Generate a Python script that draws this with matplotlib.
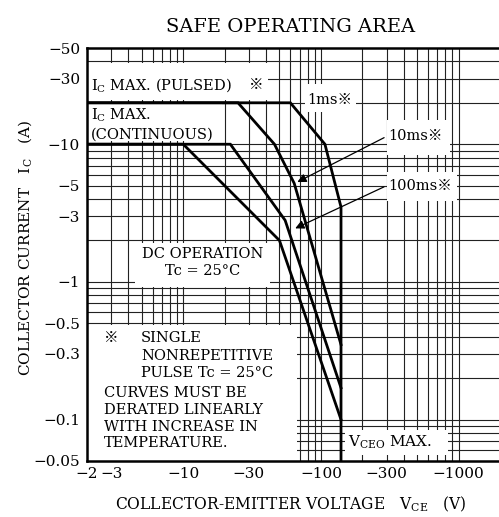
import matplotlib
matplotlib.use("Agg")
import matplotlib.pyplot as plt
from matplotlib.patches import Rectangle

plt.rcParams["font.family"] = ["DejaVu Serif", "Noto Sans CJK JP"]
plt.rcParams["mathtext.fontset"] = "dejavuserif"

# SOA boundaries (|VCE| in V, |IC| in A)
v_1ms = [2, 60, 107, 138, 140, 140]
i_1ms = [20, 20, 10, 3.7, 3.5, 0.05]
v_10ms = [2, 25, 46, 64, 140]
i_10ms = [20, 20, 10, 5.2, 0.35]
v_100ms = [2, 22, 55, 140]
i_100ms = [10, 10, 2.8, 0.17]
v_dc = [2, 10, 50, 140]
i_dc = [10, 10, 2, 0.1]

x_ticks = [2, 3, 10, 30, 100, 300, 1000]
x_ticklabels = ["−2", "−3", "−10", "−30", "−100", "−300", "−1000"]
y_ticks = [0.05, 0.1, 0.3, 0.5, 1, 3, 5, 10, 30, 50]
y_ticklabels = ["−0.05", "−0.1", "−0.3", "−0.5", "−1", "−3", "−5", "−10", "−30", "−50"]

x_grid = list(range(2, 10)) + list(range(10, 100, 10)) + list(range(100, 1001, 100))
y_grid = [0.06, 0.07, 0.08, 0.09, 0.1, 0.2, 0.3, 0.4, 0.5, 0.6, 0.7, 0.8, 0.9,
          1, 2, 3, 4, 5, 6, 7, 8, 9, 10, 20, 30, 40]

fig = plt.figure(figsize=(4.99, 5.17), dpi=100)
ax = fig.add_axes([87 / 499, 56 / 517, 413 / 499, 413 / 517])
ax.set_xscale("log")
ax.set_yscale("log")
ax.set_xlim(2, 2000)
ax.set_ylim(0.05, 50)

for gx in x_grid:
    ax.axvline(gx, color="#222222", lw=0.8, zorder=1)
for gy in y_grid:
    ax.axhline(gy, color="#222222", lw=0.8, zorder=1)

# white label areas that break the grid
blanks = [
    (2, 21, 41.5, 39),      # IC max pulsed
    (2, 10.5, 19.2, 19.5),  # IC max continuous
    (77, 17.1, 180, 27.3),  # 1ms
    (300, 8.4, 870, 15),    # 10ms
    (300, 3.9, 980, 6.3),   # 100ms
    (4.5, 0.92, 42.5, 1.92),  # DC operation
    (2, 0.05, 67, 0.49),    # note
    (150, 0.055, 840, 0.084),  # VCEO
]
for x0, y0, x1, y1 in blanks:
    ax.add_patch(Rectangle((x0, y0), x1 - x0, y1 - y0, facecolor="white",
                           edgecolor="none", zorder=2))

for v, i in [(v_1ms, i_1ms), (v_10ms, i_10ms), (v_100ms, i_100ms), (v_dc, i_dc)]:
    ax.plot(v, i, color="black", lw=2.0, zorder=4, solid_joinstyle="miter")

ax.set_xticks(x_ticks)
ax.set_xticklabels(x_ticklabels)
ax.set_yticks(y_ticks)
ax.set_yticklabels(y_ticklabels)
ax.minorticks_off()
ax.tick_params(length=0, labelsize=11, pad=4)
ax.tick_params(axis="y", pad=5)

for side in ["left", "top", "bottom"]:
    ax.spines[side].set_linewidth(1.8)
ax.spines["right"].set_visible(False)

fs = 10.5
ax.text(2.15, 27, r"I$_\mathrm{C}$ MAX. (PULSED)", fontsize=fs, va="center", zorder=5)
ax.text(34, 27, "※", fontsize=fs, va="center", ha="center", zorder=5)
ax.text(2.15, 16.3, r"I$_\mathrm{C}$ MAX.", fontsize=fs, va="center", zorder=5)
ax.text(2.15, 11.8, "(CONTINUOUS)", fontsize=fs, va="center", zorder=5)
ax.text(79, 21, "1ms※", fontsize=fs, va="center", zorder=5)
ax.text(310, 11.4, "10ms※", fontsize=fs, va="center", zorder=5)
ax.text(310, 5.0, "100ms※", fontsize=fs, va="center", zorder=5)
ax.text(13.9, 1.6, "DC OPERATION", fontsize=fs, va="center", ha="center", zorder=5)
ax.text(13.9, 1.2, "Tc = 25°C", fontsize=fs, va="center", ha="center", zorder=5)

ax.text(2.67, 0.392, "※", fontsize=fs, va="center", zorder=5)
ax.text(4.95, 0.392, "SINGLE", fontsize=fs, va="center", zorder=5)
ax.text(4.95, 0.290, "NONREPETITIVE", fontsize=fs, va="center", zorder=5)
ax.text(4.95, 0.218, "PULSE Tc = 25°C", fontsize=fs, va="center", zorder=5)
ax.text(2.67, 0.156, "CURVES MUST BE", fontsize=fs, va="center", zorder=5)
ax.text(2.67, 0.118, "DERATED LINEARLY", fontsize=fs, va="center", zorder=5)
ax.text(2.67, 0.089, "WITH INCREASE IN", fontsize=fs, va="center", zorder=5)
ax.text(2.67, 0.068, "TEMPERATURE.", fontsize=fs, va="center", zorder=5)
ax.text(158, 0.068, r"V$_\mathrm{CEO}$ MAX.", fontsize=11, va="center", zorder=5)

ax.annotate("", xy=(64.7, 5.2), xytext=(300, 11.4),
            arrowprops=dict(arrowstyle="-|>", color="black", lw=0.9,
                            mutation_scale=13), zorder=5)
ax.annotate("", xy=(62.4, 2.4), xytext=(300, 5.0),
            arrowprops=dict(arrowstyle="-|>", color="black", lw=0.9,
                            mutation_scale=13), zorder=5)

fig.text(291 / 499, 1 - 27 / 517, "SAFE OPERATING AREA", fontsize=14,
         ha="center", va="center")
fig.text(291 / 499, 1 - 504 / 517, r"COLLECTOR-EMITTER VOLTAGE   V$_\mathrm{CE}$   (V)",
         fontsize=11.2, ha="center", va="center")
fig.text(25 / 499, 1 - 248 / 517, r"COLLECTOR CURRENT   I$_\mathrm{C}$   (A)",
         fontsize=11, ha="center", va="center", rotation=90)

fig.savefig("out.png", dpi=100)
